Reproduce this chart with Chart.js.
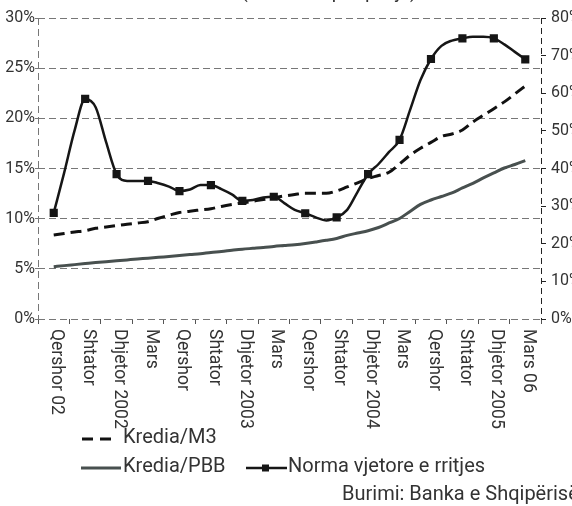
<!DOCTYPE html>
<html>
<head>
<meta charset="utf-8">
<script src="https://cdn.jsdelivr.net/npm/chart.js@4.4.1/dist/chart.umd.min.js"></script>
<style>
html,body{margin:0;padding:0;background:#fff;}
#wrap{width:572px;height:506px;position:relative;}
canvas{display:block;}
</style>
</head>
<body>
<div id="wrap"><canvas id="c" width="572" height="506"></canvas></div>
<script>
// ---- data (monthly, Qershor 2002 .. Mars 2006) ----
const quarterLabels = ["Qershor 02","Shtator","Dhjetor 2002","Mars","Qershor","Shtator","Dhjetor 2003","Mars","Qershor","Shtator","Dhjetor 2004","Mars","Qershor","Shtator","Dhjetor 2005","Mars 06"];
const kredia_M3 = [8.37,8.52,8.67,8.81,9.04,9.17,9.31,9.44,9.57,9.70,10.04,10.34,10.62,10.75,10.87,10.99,11.22,11.41,11.57,11.74,11.91,12.09,12.26,12.41,12.53,12.53,12.53,12.76,13.16,13.56,14.00,14.30,14.63,15.45,16.32,17.02,17.60,18.20,18.44,18.84,19.64,20.31,20.96,21.64,22.43,23.23];
const kredia_PBB = [5.21,5.32,5.42,5.52,5.62,5.71,5.80,5.89,5.98,6.06,6.15,6.23,6.32,6.42,6.51,6.63,6.73,6.85,6.96,7.04,7.12,7.23,7.32,7.41,7.53,7.68,7.84,8.03,8.33,8.57,8.80,9.12,9.57,10.02,10.72,11.42,11.86,12.21,12.56,13.06,13.51,14.06,14.56,15.05,15.40,15.78];
const normaRritjes = [28.2,38.9,50.2,58.5,56.3,47.0,38.5,36.7,36.7,36.7,36.1,35.2,34.0,34.4,35.6,35.6,34.5,33.1,31.4,31.6,32.3,32.5,30.8,29.0,28.1,27.0,26.2,27.0,29.0,33.8,38.5,41.2,44.4,47.6,55.5,63.5,69.1,72.6,74.0,74.6,75.0,75.0,74.6,73.0,71.0,69.0];
const leftTicks = [0,5,10,15,20,25,30];
const rightTicks = [0,10,20,30,40,50,60,70,80];
const seriesNames = ["Kredia/M3","Kredia/PBB","Norma vjetore e rritjes"];
const sourceText = "Burimi: Banka e Shqipërisë";
const titleText = "(Kredia në përqindje)";

const FONT = "Roboto, 'Liberation Sans', sans-serif";
const TXT = "#333";
const toXY = arr => arr.map((v,i)=>({x:i,y:v}));
const boundaries = [];
for (let i=0;i<=quarterLabels.length;i++) boundaries.push(i*3-1.5);

const extras = {
  id:'extras',
  beforeDatasetsDraw(chart){
    const ctx = chart.ctx, a = chart.chartArea;
    ctx.save();
    ctx.lineWidth = 1;
    ctx.setLineDash([7,4]);
    ctx.strokeStyle = '#777';
    ctx.beginPath(); ctx.moveTo(a.left+0.5,a.top); ctx.lineTo(a.left+0.5,a.bottom); ctx.stroke();
    ctx.setLineDash([6,4]);
    ctx.strokeStyle = '#222';
    ctx.beginPath(); ctx.moveTo(a.right+0.5,a.top); ctx.lineTo(a.right+0.5,a.bottom); ctx.stroke();
    ctx.restore();
  },
  afterDraw(chart){
    const ctx = chart.ctx, xs = chart.scales.x;
    ctx.save();
    // x labels rotated clockwise
    ctx.fillStyle = TXT;
    ctx.font = "17.5px " + FONT;
    ctx.textAlign = 'left';
    ctx.textBaseline = 'middle';
    quarterLabels.forEach((lab,i)=>{
      const x = xs.getPixelForValue(i*3) + 3;
      ctx.save();
      ctx.translate(x, 329);
      ctx.rotate(Math.PI/2);
      ctx.fillText(lab, 0, 0);
      ctx.restore();
    });
    // title (mostly clipped at top, as in the source image)
    ctx.font = "19px " + FONT;
    ctx.textAlign = 'center';
    ctx.textBaseline = 'alphabetic';
    ctx.fillText(titleText, 329, -2);
    // legend
    ctx.textAlign = 'left';
    ctx.textBaseline = 'middle';
    ctx.font = "20px " + FONT;
    // row 1
    ctx.strokeStyle = '#111'; ctx.lineWidth = 3; ctx.setLineDash([11,7]);
    ctx.beginPath(); ctx.moveTo(82,439); ctx.lineTo(116,439); ctx.stroke();
    ctx.setLineDash([]);
    ctx.fillText(seriesNames[0], 123, 438);
    // row 2
    ctx.strokeStyle = '#48504f'; ctx.lineWidth = 3;
    ctx.beginPath(); ctx.moveTo(81,468); ctx.lineTo(121,468); ctx.stroke();
    ctx.fillText(seriesNames[1], 123, 467);
    ctx.strokeStyle = '#161616'; ctx.lineWidth = 2.5;
    ctx.beginPath(); ctx.moveTo(246,468); ctx.lineTo(287,468); ctx.stroke();
    ctx.fillStyle = '#161616';
    ctx.fillRect(262,464.5,7,7);
    ctx.fillStyle = TXT;
    ctx.fillText(seriesNames[2], 288, 467);
    // source
    ctx.fillText(sourceText, 342, 495);
    ctx.restore();
  }
};

new Chart(document.getElementById('c'), {
  type:'line',
  data:{
    datasets:[
      {label:seriesNames[2], data:toXY(normaRritjes), yAxisID:'y2', borderColor:'#161616', backgroundColor:'#161616', borderWidth:2.5,
       pointStyle:'rect', pointRadius:c=>c.dataIndex%3===0?4:0, pointHoverRadius:0, cubicInterpolationMode:'monotone'},
      {label:seriesNames[0], data:toXY(kredia_M3), yAxisID:'y', borderColor:'#111', borderWidth:3, borderDash:[11,6], pointRadius:0, cubicInterpolationMode:'monotone'},
      {label:seriesNames[1], data:toXY(kredia_PBB), yAxisID:'y', borderColor:'#48504f', borderWidth:3, pointRadius:0, cubicInterpolationMode:'monotone'}
    ]
  },
  options:{
    responsive:false, animation:false, devicePixelRatio:1,
    layout:{padding:{top:18,left:0,right:0,bottom:0}},
    plugins:{legend:{display:false}, tooltip:{enabled:false}, title:{display:false}},
    scales:{
      x:{type:'linear', min:-1.5, max:46.5,
         afterBuildTicks:s=>{s.ticks = boundaries.map(v=>({value:v}));},
         afterFit:s=>{s.height = 187;},
         ticks:{display:false},
         grid:{drawOnChartArea:false, drawTicks:true, tickLength:5, color:'#555', lineWidth:1},
         border:{display:false}},
      y:{position:'left', min:0, max:30,
         afterBuildTicks:s=>{s.ticks = leftTicks.map(v=>({value:v}));},
         afterFit:s=>{s.width = 38;},
         ticks:{callback:v=>v+'%', color:TXT, font:{family:FONT,size:16}, padding:0},
         grid:{color:'#777', lineWidth:1, tickLength:3, tickColor:'#777'},
         border:{display:false, dash:[7,4]}},
      y2:{position:'right', min:0, max:80,
         afterBuildTicks:s=>{s.ticks = rightTicks.map(v=>({value:v}));},
         afterFit:s=>{s.width = 31;},
         ticks:{callback:v=>v+'%', color:TXT, font:{family:FONT,size:16}, padding:5},
         grid:{drawOnChartArea:false, tickLength:5, tickColor:'#222', lineWidth:1},
         border:{display:false}}
    }
  },
  plugins:[extras]
});
</script>
</body>
</html>
